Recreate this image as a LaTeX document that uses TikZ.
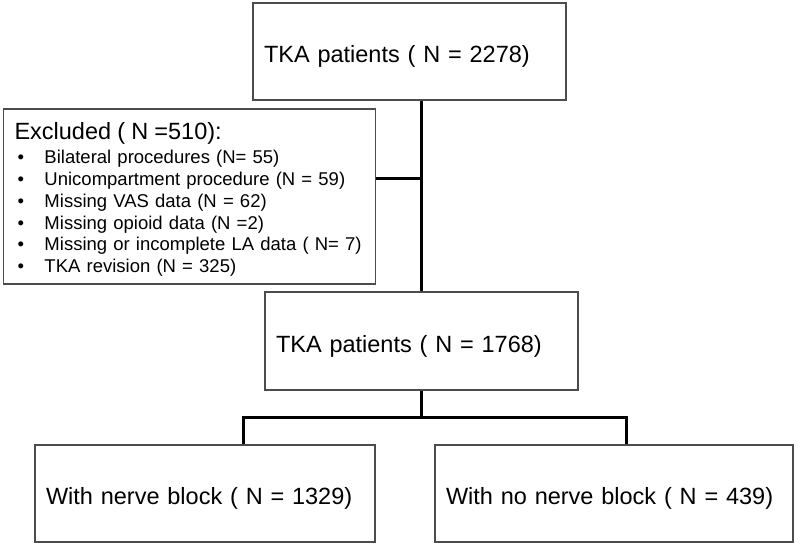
\documentclass[tikz,border=0pt]{standalone}
\usepackage{fontspec}
\setmainfont{Liberation Sans}
\begin{document}
\begin{tikzpicture}[x=1pt,y=-1pt]
\tikzstyle{box}=[draw=black!70,line width=1.2pt,rectangle,inner xsep=11pt,inner ysep=0pt,align=left,font=\fontsize{23.5}{28}\selectfont]
\tikzstyle{onebox}=[box,text height=22pt,text depth=0pt]
\tikzstyle{line}=[draw,line width=3pt,line join=miter,-]
\def \itm {\hspace*{3pt}\makebox[27pt][l]{•}}
\useasboundingbox (0,0) rectangle (798,547);
\node[onebox,text width=291pt,minimum height=97pt] (top) at (409.5,51.5) {TKA patients ( N = 2278)};
\node[box,text width=350pt,minimum height=175pt,font=\fontsize{18.5}{21.8}\selectfont] (excl) at (189.5,196.5) {\rule{0pt}{23pt}{\fontsize{23.5}{21.8}\selectfont Excluded ( N =510):}\\[2.4pt]
\itm Bilateral procedures (N= 55)\\
\itm Unicompartment procedure (N = 59)\\
\itm Missing VAS data (N = 62)\\
\itm Missing opioid data (N =2)\\
\itm Missing or incomplete LA data ( N= 7)\\
\itm TKA revision (N = 325)};
\node[onebox,text width=291pt,minimum height=98pt] (mid) at (421.5,341) {TKA patients ( N = 1768)};
\node[onebox,text width=318pt,minimum height=97pt] (left) at (205,493.5) {With nerve block ( N = 1329)};
\node[onebox,text width=336pt,minimum height=97pt] (right) at (614,493.5) {With no nerve block ( N = 439)};
\coordinate (j1) at (421.5,178);
\coordinate (j2) at (421.5,417);
\coordinate (jl) at (243,417);
\coordinate (jr) at (626,417);
\path[line] (top.south -| mid.north) -- (mid.north);
\path[line] (j1 -| excl.east) -- (j1);
\path[line] (mid.south) -- (j2);
\path[line] (left.north -| jl) -- (jl) -- (jr) -- (right.north -| jr);
\end{tikzpicture}
\end{document}
